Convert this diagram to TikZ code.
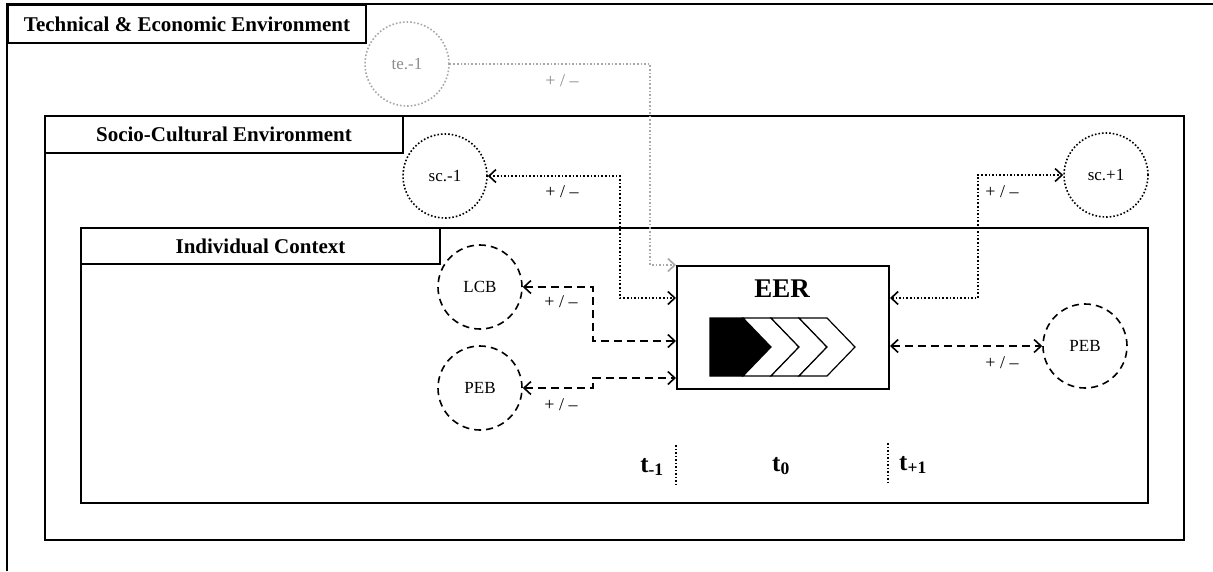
\documentclass[tikz,border=0pt]{standalone}
\usepackage{fontspec}
\setmainfont{Liberation Serif}
\usetikzlibrary{arrows.meta,calc}
\definecolor{tegray}{HTML}{A8A8A8}
\definecolor{tetext}{HTML}{8C8C8C}
\begin{document}
\begin{tikzpicture}[x=1pt,y=-1pt,
  frame/.style={draw, line width=2pt, inner sep=0pt, anchor=north west},
  titlebox/.style={draw, line width=2pt, inner sep=0pt, anchor=north west, fill=white,
    font=\fontsize{21}{24}\selectfont\bfseries},
  circ/.style={circle, minimum size=84pt, inner sep=0pt, line width=1.6pt,
    font=\fontsize{17}{19}\selectfont},
  dotcirc/.style={circ, draw, dotted},
  dashcirc/.style={circ, draw, dash pattern=on 7pt off 5pt},
  pm/.style={font=\fontsize{18}{20}\selectfont, inner sep=0pt},
  dotcon/.style={line width=1.6pt, dotted, {Straight Barb[length=7pt,width=13pt]}-{Straight Barb[length=7pt,width=13pt]}},
  dashcon/.style={line width=1.6pt, dash pattern=on 8pt off 5pt, {Straight Barb[length=7pt,width=13pt]}-{Straight Barb[length=7pt,width=13pt]}},
  tecon/.style={line width=1.6pt, dotted, draw=tegray, -{Straight Barb[length=7pt,width=13pt]}},
  chev/.style={draw, line width=1.2pt, fill=white},
  tlab/.style={font=\fontsize{25}{27}\selectfont\bfseries, inner sep=0pt},
  divider/.style={dotted, line width=1.5pt}
]
\useasboundingbox (0,0) rectangle (1213,571);
\fill[white] (0,0) rectangle (1213,571);

% outer environment (only top and left edges visible)
\draw[line width=2pt] (7,571) -- (7,4) -- (1213,4);
\node[titlebox, minimum width=358pt, minimum height=38pt] (tetitle) at (7,4) {Technical \& Economic Environment};

% socio-cultural frame
\node[frame, minimum width=1139pt, minimum height=424pt] (scframe) at (44,115) {};
\node[titlebox, minimum width=358pt, minimum height=37pt] (sctitle) at (44,115) {Socio-Cultural Environment};

% individual context frame
\node[frame, minimum width=1067pt, minimum height=275pt] (icframe) at (80,227) {};
\node[titlebox, minimum width=359pt, minimum height=36pt] (ictitle) at (80,227) {Individual Context};

% circles
\node[dotcirc, draw=tegray, text=tetext] (te) at (407,64) {te.-1};
\node[dotcirc] (scm) at (445,176) {sc.-1};
\node[dotcirc] (scp) at (1106,175) {sc.+1};
\node[dashcirc] (LCB) at (480,287) {LCB};
\node[dashcirc] (PEBl) at (480,388) {PEB};
\node[dashcirc] (PEBr) at (1085,346) {PEB};

% EER box
\node[draw, line width=2pt, minimum width=212pt, minimum height=123pt, inner sep=0pt, anchor=north west] (EER) at (676,265) {};
\node[font=\fontsize{27}{30}\selectfont\bfseries, inner sep=0pt] (eertext) at (782,289) {EER};

% chevrons
\filldraw[line width=1.2pt] (710,318) -- (743,318) -- (771,347) -- (743,376) -- (710,376) -- cycle;
\foreach \a in {743,771,799}{
  \draw[chev] (\a,318) -- (\a+28,318) -- (\a+56,347) -- (\a+28,376) -- (\a,376) -- (\a+28,347) -- cycle;
}

% attachment points on EER
\coordinate (eL0) at (EER.north west);
\coordinate (eL1) at ($(EER.north west)+(0,33)$);
\coordinate (eL2) at ($(EER.north west)+(0,76)$);
\coordinate (eL3) at ($(EER.north west)+(0,113)$);
\coordinate (eR1) at ($(EER.north east)+(0,33)$);
\coordinate (eR2) at ($(EER.north east)+(0,81)$);

% connectors
\draw[tecon] (te.east) -| ($(eL0)+(-26,0)$) -- (eL0);
\draw[dotcon] (scm.east) -| ($(eL1)+(-56,0)$) -- (eL1);
\draw[dotcon] (eR1) -- ($(eR1)+(88,0)$) |- (scp.west);
\draw[dashcon] (LCB.east) -| ($(eL2)+(-83,0)$) -- (eL2);
\draw[dashcon] (PEBl.east) -| ($(eL3)+(-83,0)$) -- (eL3);
\draw[dashcon] (eR2) -- (PEBr.west);

% labels
\node[pm, text=tetext] (pmte) at (562,81) {+ / –};
\node[pm] (pmscm) at (562,192) {+ / –};
\node[pm] (pmscp) at (1002,192) {+ / –};
\node[pm] (pmlcb) at (561,302) {+ / –};
\node[pm] (pmpebl) at (561,405) {+ / –};
\node[pm] (pmpebr) at (1002,363) {+ / –};

% time labels and dividers
\node[tlab] (tm) at (652,467) {t\textsubscript{-1}};
\node[tlab] (t0) at (781,466) {t\textsubscript{0}};
\node[tlab] (tp) at (913,465) {t\textsubscript{+1}};
\draw[divider] (676,445) -- (676,486);
\draw[divider] (888,443) -- (888,483);
\end{tikzpicture}
\end{document}
